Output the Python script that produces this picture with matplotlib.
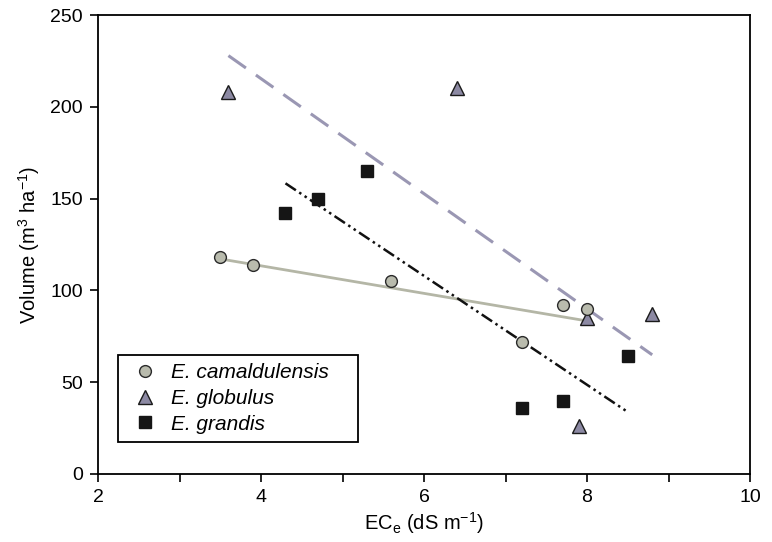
import matplotlib
matplotlib.use("Agg")
import matplotlib.pyplot as plt
import numpy as np

plt.rcParams["font.family"] = ["Liberation Sans", "DejaVu Sans"]

# E. camaldulensis
cam_x = [3.5, 3.9, 5.6, 7.7, 8.0, 7.2]
cam_y = [118, 114, 105, 92, 90, 72]
# E. globulus
glo_x = [3.6, 6.4, 8.0, 8.8, 7.9]
glo_y = [208, 210, 85, 87, 26]
# E. grandis
gra_x = [4.3, 4.7, 5.3, 7.2, 7.7, 8.5]
gra_y = [142, 150, 165, 36, 40, 64]

labels = ["E. camaldulensis", "E. globulus", "E. grandis"]
xticks = [2, 4, 6, 8, 10]
yticks = [0, 50, 100, 150, 200, 250]


def fit_line(x, y):
    """least squares trend line over the data range"""
    k, b = np.polyfit(x, y, 1)
    xs = np.array([min(x), max(x)])
    return xs, k * xs + b


fig = plt.figure(figsize=(7.72, 5.42), dpi=100)
ax = fig.add_axes([0.127, 0.1255, 0.8445, 0.8468])

# trend lines
xs, ys = fit_line(cam_x, cam_y)
ax.plot(xs, ys, color="#b4b6a6", lw=2.0, zorder=2)
xs, ys = fit_line(glo_x, glo_y)
ax.plot(xs, ys, color="#9a97b3", lw=2.2, dashes=(7, 4), zorder=2)
xs, ys = fit_line(gra_x, gra_y)
ax.plot(xs, ys, color="#111111", lw=1.8, dashes=(5, 1.6, 1, 1.6, 1, 1.6), zorder=2)

# points
ax.plot(cam_x, cam_y, "o", ms=8.5, mfc="#b9bbad", mec="#2a2a2a", mew=1.0,
        ls="none", label=labels[0], zorder=4)
ax.plot(glo_x, glo_y, "^", ms=9.5, mfc="#8c89a3", mec="#1a1a1a", mew=1.0,
        ls="none", label=labels[1], zorder=3)
ax.plot(gra_x, gra_y, "s", ms=9, mfc="#151515", mec="#151515", mew=1.0,
        ls="none", label=labels[2], zorder=3)

ax.set_xlim(2, 10)
ax.set_ylim(0, 250)
ax.set_xticks(xticks)
ax.set_xticks([3, 5, 7, 9], minor=True)
ax.set_yticks(yticks)
ax.tick_params(axis="both", which="both", direction="out", length=6, width=1.2,
               labelsize=14, color="black")
ax.tick_params(axis="x", which="major", pad=5)
ax.tick_params(axis="y", which="major", pad=5)
for s in ax.spines.values():
    s.set_linewidth(1.3)

ax.set_xlabel(r"EC$_\mathregular{e}$ (dS m$^\mathregular{-1}$)", fontsize=14.5, labelpad=3)
ax.set_ylabel(r"Volume (m$^\mathregular{3}$ ha$^\mathregular{-1}$)", fontsize=14.5, labelpad=6)

leg = ax.legend(loc="lower left", bbox_to_anchor=(0.031, 0.070, 0.368, 0.2),
                mode="expand", borderaxespad=0, fancybox=False,
                edgecolor="black", framealpha=1, prop={"style": "italic", "size": 15},
                handletextpad=0.35, borderpad=0.4, labelspacing=0.32, handlelength=1.8)
leg.get_frame().set_linewidth(1.3)

fig.savefig("out.png", dpi=100)
